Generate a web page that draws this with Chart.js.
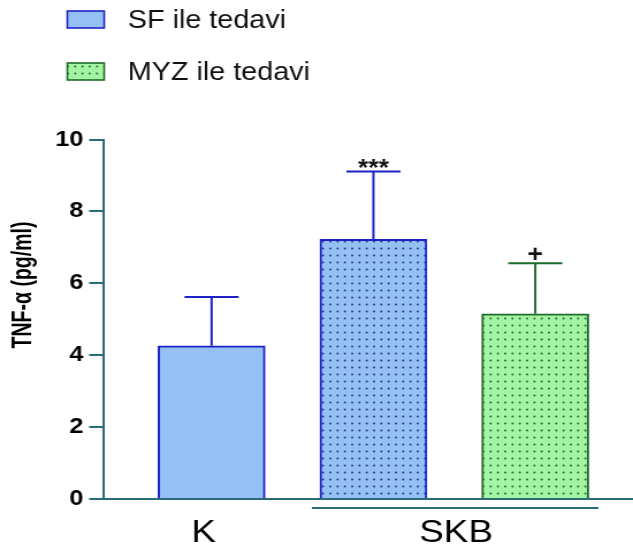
<!DOCTYPE html>
<html>
<head>
<meta charset="utf-8">
<script src="https://cdn.jsdelivr.net/npm/chart.js@4.4.1/dist/chart.umd.min.js"></script>
<style>
  html, body { margin: 0; padding: 0; background: #fff; overflow: hidden; }
</style>
</head>
<body>
<!-- drawing surface is rendered narrower and widened on screen -->
<canvas id="c" width="550" height="549" style="display:block;width:633px;height:549px"></canvas>
<script>
// ---- data ----
const groups      = ['K', 'SKB'];
const barGroup    = ['K', 'SKB', 'SKB'];
const treatments  = ['SF ile tedavi', 'MYZ ile tedavi'];
const barTreat    = ['SF ile tedavi', 'SF ile tedavi', 'MYZ ile tedavi'];
const means       = [4.26, 7.22, 5.15];
const sdUpper     = [1.36, 1.89, 1.41];
const marks       = ['', '***', '+'];
const yTicks      = [0, 2, 4, 6, 8, 10];
const yTitle      = 'TNF-\u03b1 (pg/ml)';

// ---- styling ----
const FONT = '"Liberation Sans", Arial, Helvetica, sans-serif';
const AXIS = '#2c6a78';
const style = {
  'SF ile tedavi':  { fill: '#95c0f5', border: '#1c22c4', dot: '#22347a' },
  'MYZ ile tedavi': { fill: '#a3f5a3', border: '#1f6b2a', dot: '#235e27' }
};

const canvas = document.getElementById('c');
const ctx0 = canvas.getContext('2d');

function dotted(fill, dot) {
  const p = document.createElement('canvas');
  p.width = 19; p.height = 7;
  const g = p.getContext('2d');
  g.fillStyle = fill; g.fillRect(0, 0, 19, 7);
  g.fillStyle = dot;
  [2, 8.33, 14.67].forEach(x => { g.beginPath(); g.arc(x, 3.5, 0.95, 0, Math.PI * 2); g.fill(); });
  return ctx0.createPattern(p, 'repeat');
}
const patterns = {};
treatments.forEach(t => { patterns[t] = dotted(style[t].fill, style[t].dot); });

// diseased group (SKB) bars are dotted, control bars are plain
function barFill(t, i) { return barGroup[i] === 'SKB' ? patterns[t] : style[t].fill; }

const datasets = treatments.map(t => {
  const pts = [];
  means.forEach((m, i) => { if (barTreat[i] === t) pts.push({ x: i, y: m, i }); });
  return {
    label: t,
    data: pts,
    backgroundColor: c => c.raw ? barFill(t, c.raw.i) : style[t].fill,
    borderColor: style[t].border,
    borderWidth: 2,
    barThickness: 93,
    grouped: false
  };
});

// ---- overlays: error bars, marks, group labels, axis title, legend ----
const overlays = {
  id: 'overlays',
  afterDatasetsDraw(chart) {
    const { ctx, scales: { x, y }, chartArea } = chart;
    ctx.save();
    // error bars + significance marks
    chart.data.datasets.forEach((ds, di) => {
      const meta = chart.getDatasetMeta(di);
      meta.data.forEach((bar, j) => {
        const i = ds.data[j].i;
        const top = y.getPixelForValue(means[i] + sdUpper[i]);
        const cx = bar.x;
        ctx.strokeStyle = ds.borderColor;
        ctx.lineWidth = 2;
        ctx.beginPath();
        ctx.moveTo(cx, bar.y);
        ctx.lineTo(cx, top);
        ctx.moveTo(cx - 23.5, top);
        ctx.lineTo(cx + 23.5, top);
        ctx.stroke();
        if (marks[i]) {
          ctx.fillStyle = '#111';
          ctx.font = 'bold 23px ' + FONT;
          ctx.textAlign = 'center';
          ctx.textBaseline = 'alphabetic';
          const m = ctx.measureText(marks[i]);
          ctx.fillText(marks[i], cx, top - 3.5 - m.actualBoundingBoxDescent);
        }
      });
    });

    // category labels under the x axis
    ctx.fillStyle = '#000';
    ctx.font = '32px ' + FONT;
    ctx.textAlign = 'center';
    ctx.textBaseline = 'alphabetic';
    groups.forEach(gname => {
      const idx = barGroup.map((g, i) => g === gname ? i : -1).filter(i => i >= 0);
      const lo = Math.min(...idx), hi = Math.max(...idx);
      let cx = (x.getPixelForValue(lo) + x.getPixelForValue(hi)) / 2;
      if (idx.length > 1) {
        ctx.strokeStyle = AXIS;
        ctx.lineWidth = 2;
        ctx.beginPath();
        ctx.moveTo(x.getPixelForValue(lo - 0.38), chartArea.bottom + 9);
        ctx.lineTo(x.getPixelForValue(hi + 0.39), chartArea.bottom + 9);
        ctx.stroke();
        cx += 1.5;
      } else {
        cx -= 7;
      }
      ctx.fillText(gname, cx, chartArea.bottom + 43);
    });

    // y axis title (slightly widened glyphs across the axis)
    ctx.save();
    ctx.translate(21, 285);
    ctx.rotate(-Math.PI / 2);
    ctx.scale(1, 1.2);
    ctx.font = 'bold 19.5px ' + FONT;
    ctx.textAlign = 'center';
    ctx.textBaseline = 'middle';
    ctx.fillStyle = '#000';
    ctx.fillText(yTitle, 0, 0);
    ctx.restore();

    // legend
    treatments.forEach((t, k) => {
      const by = 11 + k * 52;
      ctx.fillStyle = k === 0 ? style[t].fill : patterns[t];
      ctx.fillRect(58.5, by, 32, 17);
      ctx.strokeStyle = style[t].border;
      ctx.lineWidth = 1.6;
      ctx.strokeRect(58.5, by, 32, 17);
      ctx.fillStyle = '#111';
      ctx.font = '25px ' + FONT;
      ctx.textAlign = 'left';
      ctx.textBaseline = 'alphabetic';
      ctx.fillText(t, 111, by + 17);
    });
    ctx.restore();
  }
};

new Chart(canvas, {
  type: 'bar',
  data: { datasets },
  plugins: [overlays],
  options: {
    responsive: false,
    animation: false,
    devicePixelRatio: 1,
    layout: { padding: { top: 139.5, bottom: 50, left: 0, right: 0 } },
    plugins: { legend: { display: false }, tooltip: { enabled: false } },
    scales: {
      x: {
        type: 'linear',
        offset: false,
        min: -0.671,
        max: 2.604,
        grid: { display: false, drawTicks: false },
        ticks: { display: false },
        border: { color: AXIS, width: 2 }
      },
      y: {
        min: 0,
        max: 10,
        afterBuildTicks(s) { s.ticks = yTicks.map(v => ({ value: v })); },
        afterFit(s) { s.width = 89.5; },
        ticks: { color: '#000', padding: 5, font: { family: FONT, size: 22, weight: 'bold' } },
        grid: { drawOnChartArea: false, drawTicks: true, tickLength: 12, color: AXIS, lineWidth: 2 },
        border: { color: AXIS, width: 2 }
      }
    }
  }
});
</script>
</body>
</html>
